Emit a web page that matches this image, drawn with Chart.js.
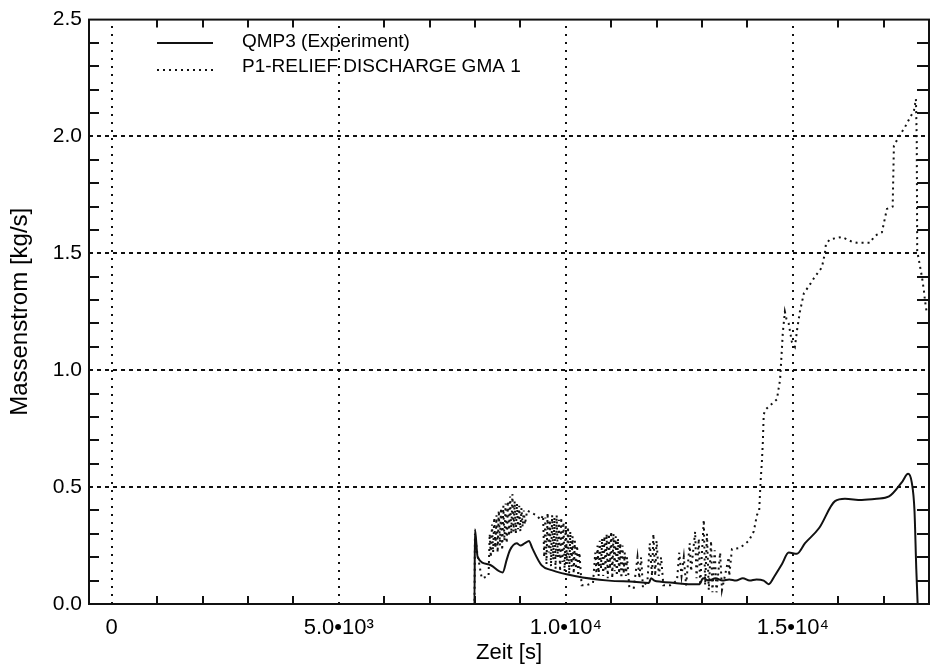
<!DOCTYPE html>
<html>
<head>
<meta charset="utf-8">
<script src="https://cdn.jsdelivr.net/npm/chart.js@4.4.1/dist/chart.umd.min.js"></script>
<style>
  html, body { margin: 0; padding: 0; background: #fff; }
  #wrap { width: 934px; height: 667px; position: relative; }
</style>
</head>
<body>
<div id="wrap"><canvas id="c"></canvas></div>
<script>
// ---- data (time in s, mass flow in kg/s) ----
const SERIES_NAMES = ['QMP3 (Experiment)', 'P1-RELIEF DISCHARGE GMA 1'];

const QMP3_T = [0, 7990, 8000, 8060, 8300, 8610, 8700, 8770, 8920, 9000,
                9100, 9190, 9260, 9470, 9690, 10200, 10950, 11500, 11830, 11880,
                11950, 12100, 12400, 12700, 12950, 13020, 13150, 13300, 13450, 13600,
                13750, 13900, 14050, 14200, 14360, 14470, 14600, 14760, 14910, 15090,
                15270, 15580, 15930, 16150, 16520, 16850, 17120, 17400, 17540, 17620,
                17680, 17720, 17750];
const QMP3_V = [0, 0, 0.32, 0.20, 0.17, 0.135, 0.19, 0.23, 0.26, 0.25,
                0.26, 0.27, 0.24, 0.165, 0.145, 0.12, 0.10, 0.095, 0.09, 0.11,
                0.10, 0.095, 0.09, 0.085, 0.085, 0.11, 0.10, 0.11, 0.10, 0.105,
                0.10, 0.11, 0.10, 0.105, 0.10, 0.085, 0.12, 0.17, 0.22, 0.215,
                0.26, 0.325, 0.44, 0.45, 0.445, 0.45, 0.46, 0.52, 0.557, 0.52,
                0.40, 0.15, 0.0];

const RELIEF_T = [0, 7990, 8000, 8050, 8150, 8300,
  8325, 8350, 8375, 8400, 8425, 8450, 8475, 8500, 8525, 8550,
  8575, 8600, 8625, 8650, 8675, 8700, 8725, 8750, 8775, 8800,
  8825, 8850, 8875, 8900, 8925, 8950, 8975, 9000, 9025, 9050,
  9075, 9100, 9150, 9250, 9350, 9450,
  9500, 9525, 9550, 9575, 9600, 9625, 9650, 9675, 9700, 9725,
  9750, 9775, 9800, 9825, 9850, 9875, 9900, 9925, 9950, 9975,
  10000, 10025, 10050, 10075, 10100, 10125, 10150, 10175, 10200, 10225,
  10250, 10275, 10300, 10350, 10450, 10600,
  10650, 10675, 10700, 10725, 10750, 10775, 10800, 10825, 10850, 10875,
  10900, 10925, 10950, 10975, 11000, 11025, 11050, 11075, 11100, 11125,
  11150, 11175, 11200, 11225, 11250, 11275, 11300, 11325, 11350, 11400,
  11500, 11580, 11620, 11660, 11700, 11800, 11850, 11900, 11930, 11970,
  12000, 12050, 12100, 12150, 12300, 12450, 12500, 12550, 12600, 12650,
  12730, 12760, 12850, 12880, 12930, 12960, 13040, 13070, 13110, 13150,
  13200, 13230, 13280, 13320, 13400, 13440, 13590, 13600, 13660, 13840,
  14030, 14140, 14210, 14260, 14290, 14320, 14340, 14360, 14390, 14650,
  14720, 14760, 14780, 14826, 14860, 14910, 14980, 15046, 15100, 15156,
  15245, 15355, 15487, 15641, 15707, 15730, 15817, 16082, 16302, 16412,
  16699, 16787, 16853, 16963, 17029, 17073, 17200, 17227, 17338, 17470,
  17580, 17668, 17712, 17730, 17740, 17778, 17844, 17888, 17910, 17954];
const RELIEF_V = [0, 0, 0.30, 0.22, 0.11, 0.12,
  0.30, 0.20, 0.34, 0.22, 0.37, 0.24, 0.38, 0.22, 0.40, 0.25,
  0.41, 0.23, 0.42, 0.27, 0.43, 0.26, 0.44, 0.29, 0.46, 0.30,
  0.47, 0.31, 0.44, 0.30, 0.43, 0.32, 0.42, 0.31, 0.41, 0.33,
  0.40, 0.34, 0.40, 0.39, 0.38, 0.36,
  0.38, 0.20, 0.37, 0.17, 0.39, 0.22, 0.36, 0.16, 0.38, 0.19,
  0.37, 0.15, 0.38, 0.20, 0.36, 0.14, 0.37, 0.18, 0.35, 0.14,
  0.34, 0.17, 0.33, 0.13, 0.31, 0.16, 0.29, 0.13, 0.27, 0.15,
  0.25, 0.12, 0.22, 0.08, 0.08, 0.09,
  0.22, 0.13, 0.25, 0.12, 0.27, 0.15, 0.28, 0.12, 0.29, 0.14,
  0.30, 0.11, 0.30, 0.15, 0.31, 0.11, 0.30, 0.14, 0.29, 0.12,
  0.28, 0.13, 0.26, 0.11, 0.25, 0.13, 0.22, 0.12, 0.20, 0.07,
  0.07, 0.20, 0.11, 0.20, 0.07, 0.10, 0.26, 0.12, 0.30, 0.12,
  0.27, 0.12, 0.20, 0.08, 0.08, 0.10, 0.22, 0.12, 0.20, 0.08,
  0.26, 0.14, 0.31, 0.11, 0.28, 0.08, 0.36, 0.08, 0.30, 0.06,
  0.27, 0.05, 0.23, 0.05, 0.22, 0.06, 0.20, 0.12, 0.235, 0.24,
  0.27, 0.31, 0.38, 0.40, 0.52, 0.61, 0.69, 0.81, 0.83, 0.875,
  0.96, 1.09, 1.16, 1.25, 1.22, 1.20, 1.12, 1.10, 1.18, 1.25,
  1.33, 1.36, 1.40, 1.44, 1.50, 1.54, 1.56, 1.57, 1.55, 1.545,
  1.545, 1.57, 1.58, 1.59, 1.65, 1.69, 1.70, 1.96, 2.00, 2.04,
  2.08, 2.11, 2.16, 1.99, 1.51, 1.47, 1.40, 1.34, 1.30, 1.24];

const X_TICKS = [0, 5000, 10000, 15000];
const X_TICK_LABELS = ['0', '5.0\u202210\u00B3', '1.0\u202210\u2074', '1.5\u202210\u2074'];
const Y_TICKS = [0, 0.5, 1.0, 1.5, 2.0, 2.5];
const Y_TICK_LABELS = ['0.0', '0.5', '1.0', '1.5', '2.0', '2.5'];
const X_TITLE = 'Zeit [s]';
const Y_TITLE = 'Massenstrom [kg/s]';

// ---- helpers ----
const toPoints = (t, v) => t.map((x, i) => ({ x: x, y: v[i] }));
const INK = '#111';
const FONT = '"Liberation Sans", Arial, Helvetica, sans-serif';

const framePlugin = {
  id: 'frame',
  beforeDatasetsDraw(chart) {
    const { ctx, chartArea: { left, right, top, bottom }, scales: { x, y } } = chart;
    ctx.save();
    ctx.strokeStyle = INK;
    ctx.lineWidth = 2;
    ctx.setLineDash([2, 6]);
    X_TICKS.forEach(v => {
      const p = Math.round(x.getPixelForValue(v));
      ctx.beginPath(); ctx.moveTo(p, bottom); ctx.lineTo(p, top); ctx.stroke();
    });
    ctx.setLineDash([4, 4]);
    Y_TICKS.slice(1, -1).forEach(v => {
      const p = Math.round(y.getPixelForValue(v));
      ctx.beginPath(); ctx.moveTo(left, p); ctx.lineTo(right, p); ctx.stroke();
    });
    ctx.restore();
  },
  afterDatasetsDraw(chart) {
    const { ctx, chartArea: { left, right, top, bottom }, scales: { x, y } } = chart;
    ctx.save();
    ctx.strokeStyle = INK;
    ctx.setLineDash([]);
    ctx.lineWidth = 2;
    for (let v = 1000; v < x.max; v += 1000) {
      if (v % 5000 === 0) continue;
      const p = Math.round(x.getPixelForValue(v));
      ctx.beginPath(); ctx.moveTo(p, bottom); ctx.lineTo(p, bottom - 8); ctx.stroke();
      ctx.beginPath(); ctx.moveTo(p, top); ctx.lineTo(p, top + 8); ctx.stroke();
    }
    for (let k = 1; k < 25; k++) {
      if (k % 5 === 0) continue;
      const p = Math.round(y.getPixelForValue(k / 10));
      ctx.beginPath(); ctx.moveTo(left, p); ctx.lineTo(left + 10, p); ctx.stroke();
      ctx.beginPath(); ctx.moveTo(right, p); ctx.lineTo(right - 12, p); ctx.stroke();
    }
    ctx.lineWidth = 2;
    ctx.strokeRect(left, top, right - left, bottom - top);
    ctx.restore();
  },
  afterDraw(chart) {
    const { ctx } = chart;
    ctx.save();
    ctx.fillStyle = '#000';
    ctx.strokeStyle = INK;
    ctx.lineWidth = 2;
    ctx.font = '19px ' + FONT;
    ctx.textBaseline = 'middle';
    ctx.textAlign = 'left';
    const ds = chart.data.datasets;
    const rows = [42, 67];
    const lineRows = [43, 70];
    ds.forEach((d, i) => {
      ctx.setLineDash(d.borderDash || []);
      ctx.beginPath(); ctx.moveTo(157, lineRows[i]); ctx.lineTo(213, lineRows[i]); ctx.stroke();
      ctx.setLineDash([]);
      ctx.fillText(d.label, 242, rows[i]);
    });
    ctx.restore();
  }
};

new Chart(document.getElementById('c'), {
  type: 'line',
  data: {
    datasets: [
      {
        label: SERIES_NAMES[0],
        data: toPoints(QMP3_T, QMP3_V),
        borderColor: INK,
        borderWidth: 2,
        pointRadius: 0,
        cubicInterpolationMode: 'monotone',
        fill: false
      },
      {
        label: SERIES_NAMES[1],
        data: toPoints(RELIEF_T, RELIEF_V),
        borderColor: INK,
        borderWidth: 2,
        borderDash: [2, 4],
        pointRadius: 0,
        tension: 0,
        fill: false
      }
    ]
  },
  options: {
    responsive: true,
    maintainAspectRatio: false,
    devicePixelRatio: 1,
    animation: false,
    layout: { padding: { left: 0, right: 5, top: 12, bottom: 0 } },
    plugins: { legend: { display: false }, tooltip: { enabled: false } },
    scales: {
      x: {
        type: 'linear',
        min: -500,
        max: 18000,
        grid: { display: false, drawTicks: false },
        border: { display: false },
        afterBuildTicks: s => { s.ticks = X_TICKS.map(v => ({ value: v })); },
        afterFit: s => { s.height = 63; },
        ticks: {
          autoSkip: false,
          maxRotation: 0,
          minRotation: 0,
          padding: 11,
          color: '#000',
          font: { family: FONT, size: 22 },
          callback: v => X_TICK_LABELS[X_TICKS.indexOf(v)]
        },
        title: {
          display: true,
          text: X_TITLE,
          color: '#000',
          font: { family: FONT, size: 22 },
          padding: { top: 0, bottom: 1 }
        }
      },
      y: {
        type: 'linear',
        min: 0,
        max: 2.5,
        grid: { display: false, drawTicks: false },
        border: { display: false },
        afterBuildTicks: s => { s.ticks = Y_TICKS.map(v => ({ value: v })); },
        afterFit: s => { s.width = 89; },
        ticks: {
          padding: 7,
          color: '#000',
          font: { family: FONT, size: 21 },
          callback: v => Y_TICK_LABELS[Y_TICKS.indexOf(v)]
        },
        title: {
          display: true,
          text: Y_TITLE,
          color: '#000',
          font: { family: FONT, size: 24 },
          padding: { top: 6, bottom: 0 }
        }
      }
    }
  },
  plugins: [framePlugin]
});
</script>
</body>
</html>
